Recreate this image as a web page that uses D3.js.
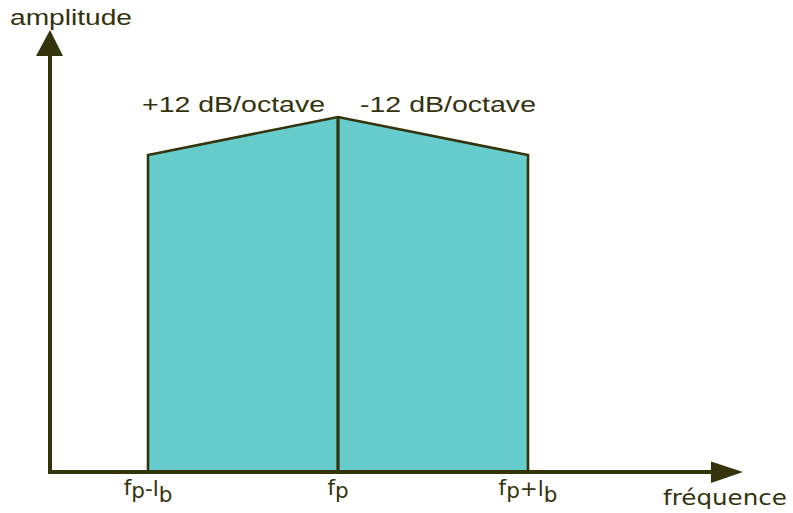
<!DOCTYPE html>
<html><head><meta charset="utf-8">
<script src="https://cdn.jsdelivr.net/npm/d3@7"></script>
<style>html,body{margin:0;padding:0;background:#fff;}</style>
</head><body>
<svg id="c" width="793" height="513"></svg>
<script>
// Data
const categories = ["fp-lb", "fp", "fp+lb"];
const tickParts = [
  [["f",0],["p",3],["-l",1],["b",7]],
  [["f",0],["p",3]],
  [["f",0],["p",3],["+l",1],["b",7]]
];
const amplitudes = [0.893, 1.0, 0.893];
const slopeLabels = ["+12 dB/octave", "-12 dB/octave"];
const yTitle = "amplitude";
const xTitle = "fréquence";

const ink = "#34330c";
const fill = "#66cccc";
const svg = d3.select("#c");

const x = d3.scalePoint().domain(categories).range([148, 528]);
const y = d3.scaleLinear().domain([0, 1]).range([472, 117]);

// filled shape
const pts = categories.map((c, i) => [x(c), y(amplitudes[i])]);
const poly = [[x(categories[0]), y(0)], ...pts, [x(categories[2]), y(0)]];
svg.append("path")
  .attr("d", d3.line()(poly))
  .attr("fill", fill)
  .attr("stroke", ink)
  .attr("stroke-width", 2.6)
  .attr("stroke-linejoin", "miter");
// centre line
svg.append("line")
  .attr("x1", x(categories[1])).attr("x2", x(categories[1]))
  .attr("y1", y(amplitudes[1])).attr("y2", y(0))
  .attr("stroke", ink).attr("stroke-width", 3.2);

// axes
const x0 = 50;
svg.append("line").attr("x1", x0).attr("x2", x0).attr("y1", y(0) + 2).attr("y2", 50)
  .attr("stroke", ink).attr("stroke-width", 4);
svg.append("path").attr("d", `M${x0},30 L${x0+13},56 L${x0-14},56 Z`).attr("fill", ink);
svg.append("line").attr("x1", x0 - 2).attr("x2", 718).attr("y1", y(0)).attr("y2", y(0))
  .attr("stroke", ink).attr("stroke-width", 4);
svg.append("path").attr("d", `M743,${y(0)} L711,${y(0)-10.5} L711,${y(0)+11} Z`).attr("fill", ink);

// titles
svg.append("text").attr("x", 10).attr("y", 25)
  .attr("font-family", "Liberation Sans, Arial, sans-serif").attr("font-size", 22.5)
  .attr("fill", ink).attr("textLength", 122).attr("lengthAdjust", "spacingAndGlyphs")
  .text(yTitle);
svg.append("text").attr("x", 663).attr("y", 505)
  .attr("font-family", "DejaVu Sans, Verdana, sans-serif").attr("font-size", 22)
  .attr("fill", ink).attr("textLength", 124).attr("lengthAdjust", "spacingAndGlyphs")
  .text(xTitle);

// slope labels
const slopePos = [[142, 183], [360, 176]];
svg.selectAll("text.slope").data(slopeLabels).join("text")
  .attr("class", "slope")
  .attr("x", (d, i) => slopePos[i][0]).attr("y", 111.5)
  .attr("font-family", "Liberation Sans, Arial, sans-serif").attr("font-size", 21.5)
  .attr("fill", ink)
  .attr("textLength", (d, i) => slopePos[i][1]).attr("lengthAdjust", "spacingAndGlyphs")
  .text(d => d);

// tick labels
const tl = svg.selectAll("text.tick").data(categories).join("text")
  .attr("class", "tick")
  .attr("x", d => x(d)).attr("y", 495)
  .attr("text-anchor", "middle")
  .attr("font-family", "DejaVu Sans, Verdana, sans-serif").attr("font-size", 21.5)
  .attr("fill", ink);
tl.each(function(d, i) {
  let prev = 0;
  const t = d3.select(this);
  tickParts[i].forEach(([s, off]) => {
    t.append("tspan").attr("dy", off - prev).text(s);
    prev = off;
  });
});
</script>
</body></html>
